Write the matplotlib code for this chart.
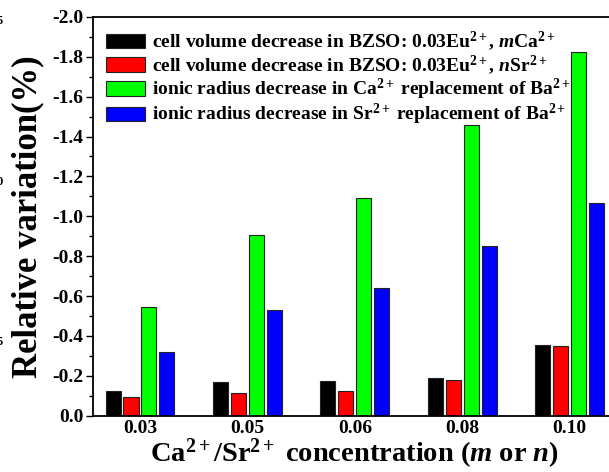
import numpy as np
import matplotlib
matplotlib.use('Agg')
import matplotlib.pyplot as plt
from matplotlib.ticker import MultipleLocator

plt.rcParams['font.family'] = 'Liberation Serif'
plt.rcParams['font.weight'] = 'bold'
plt.rcParams['mathtext.fontset'] = 'custom'
plt.rcParams['mathtext.rm'] = 'Liberation Serif:bold'
plt.rcParams['mathtext.it'] = 'Liberation Serif:italic:bold'
plt.rcParams['mathtext.bf'] = 'Liberation Serif:bold'

# dopant concentrations (m or n)
concentrations = ['0.03', '0.05', '0.06', '0.08', '0.10']

# relative variation (%), negative = decrease
vol_ca = [-0.124, -0.171, -0.174, -0.189, -0.352]
vol_sr = [-0.094, -0.114, -0.124, -0.177, -0.349]
radius_ca = [-0.545, -0.908, -1.092, -1.456, -1.822]
radius_sr = [-0.318, -0.532, -0.639, -0.853, -1.069]

series = [
    (vol_ca, '#000000', r'cell volume decrease in BZSO: 0.03Eu$^{2+}$, $m$Ca$^{2+}$'),
    (vol_sr, '#ff0000', r'cell volume decrease in BZSO: 0.03Eu$^{2+}$, $n$Sr$^{2+}$'),
    (radius_ca, '#00ff00', r'ionic radius decrease in Ca$^{2+}$ replacement of Ba$^{2+}$'),
    (radius_sr, '#0000ff', r'ionic radius decrease in Sr$^{2+}$ replacement of Ba$^{2+}$'),
]

fig = plt.figure(figsize=(6.09, 4.72), dpi=100)
ax = fig.add_axes([0.1527, 0.1193, 0.860, 0.845])

x = np.arange(len(concentrations))
pitch = 0.167
width = 0.14
for i, (vals, clr, lab) in enumerate(series):
    ax.bar(x + (i - 1.5) * pitch, vals, width, color=clr, edgecolor='#222222',
           linewidth=0.8, label=lab)

ax.set_xlim(-0.437, len(concentrations) - 1 + 0.437)
ax.set_ylim(0.0, -2.0)
ax.yaxis.set_major_locator(MultipleLocator(0.2))
ax.yaxis.set_minor_locator(MultipleLocator(0.1))
ax.yaxis.set_major_formatter(plt.FuncFormatter(lambda v, p: f'{v:.1f}'))
ax.set_xticks(x)
ax.set_xticklabels(concentrations)
ax.tick_params(axis='x', length=0, labelsize=14, pad=3)
ax.tick_params(axis='y', which='major', direction='out', length=5, width=1,
               labelsize=14, pad=2)
ax.tick_params(axis='y', which='minor', direction='out', length=3, width=1)
for s in ax.spines.values():
    s.set_linewidth(1.3)

ax.set_ylabel('Relative variation(%)', fontsize=25, fontweight='bold', labelpad=6)
ax.set_xlabel(r'Ca$^{2+}$/Sr$^{2+}$ concentration ($m$ or $n$)', fontsize=20.5,
              fontweight='bold', labelpad=0)

ax.legend(loc='upper left', frameon=False, fontsize=14, handlelength=2.05,
          handleheight=0.75, handletextpad=0.35, labelspacing=0.0,
          borderaxespad=0.25)

# clipped tick labels of the neighbouring panel
for yy, t in [(0.955, '5'), (0.615, '0'), (0.275, '5')]:
    fig.text(-0.006, yy, t, fontsize=9, ha='left', va='center')

fig.savefig('out.png', dpi=100)
